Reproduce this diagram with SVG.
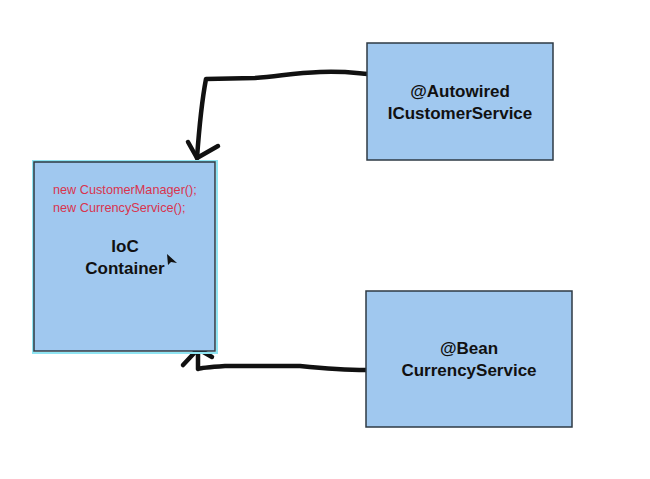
<svg xmlns="http://www.w3.org/2000/svg" width="650" height="479" viewBox="0 0 650 479">
<style>
.box{fill:#a0c8ef;stroke:#2e3a44;stroke-width:1.5}
.lbl{font-family:"Liberation Sans",Arial,sans-serif;font-weight:bold;font-size:17px;fill:#111;text-anchor:middle}
.code{font-family:"Liberation Sans",Arial,sans-serif;font-size:12.7px;fill:#d9344e}
.pen{fill:none;stroke:#111;stroke-width:4.5;stroke-linecap:round;stroke-linejoin:round}
</style>
<rect width="650" height="479" fill="#fff"/>
<g id="connectors">
<path class="pen" d="M368,74 C355,73 345,71 320,72 C295,73 280,76 255,78 L206,79 C202,100 199,130 197,158"/>
<path class="pen" d="M188,142 L197,158 L218,146"/>
<path class="pen" d="M366,370 C345,370 330,369 300,366 L225,366 C210,367 200,368 198,369 L198,349"/>
<path class="pen" d="M183,365 L198,349 L212,357"/>
</g>
<g id="ioc">
<rect x="33" y="161" width="184" height="192" fill="none" stroke="#8fe4f2" stroke-width="2"/>
<rect class="box" x="34" y="162" width="181" height="189"/>
<text class="code" x="53" y="194">new CustomerManager();</text>
<text class="code" x="53" y="212">new CurrencyService();</text>
<text class="lbl" x="125" y="252">IoC</text>
<text class="lbl" x="125" y="274">Container</text>
<polygon points="167,254 168,265 171,262 177,263" fill="#111"/>
</g>
<g id="autowired">
<rect class="box" x="367" y="43" width="186" height="117"/>
<text class="lbl" x="460" y="97">@Autowired</text>
<text class="lbl" x="460" y="119">ICustomerService</text>
</g>
<g id="bean">
<rect class="box" x="366" y="291" width="206" height="136"/>
<text class="lbl" x="469" y="354">@Bean</text>
<text class="lbl" x="469" y="376">CurrencyService</text>
</g>
</svg>
